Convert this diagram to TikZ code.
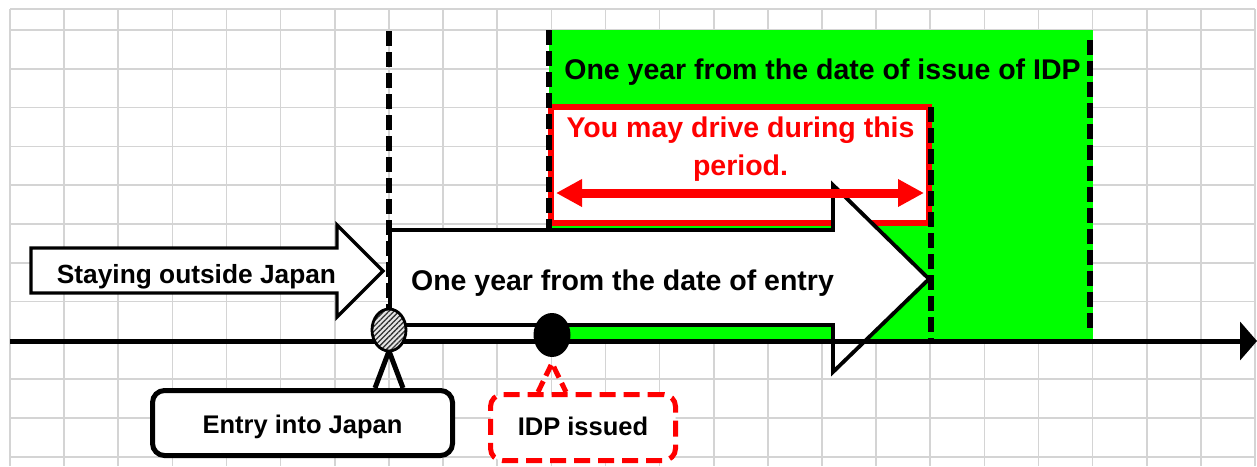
\documentclass[tikz,border=0pt]{standalone}
\usepackage{fontspec}
\setmainfont{Liberation Sans}
\usetikzlibrary{arrows.meta,shapes.geometric,patterns.meta,calc}
\definecolor{gridgray}{HTML}{D4D4D4}
\definecolor{brightgreen}{HTML}{00FF00}
\definecolor{pured}{HTML}{FF0000}
\begin{document}
\begin{tikzpicture}[x=1pt,y=-1pt,
  gridline/.style={draw=gridgray, line width=1.6pt},
  vdashed/.style={line width=5.5pt, dash pattern=on 15pt off 6pt},
  blockarrow/.style={draw=black, fill=white, line width=3.8pt, line join=miter},
  lbl/.style={font=\bfseries\fontsize{28.5}{38}\selectfont, inner sep=0pt},
  callout/.style={rounded corners=12pt, line width=5pt, fill=white, inner sep=0pt,
     font=\bfseries\fontsize{25.5}{30}\selectfont}]
\useasboundingbox (0,0) rectangle (1257,466);
% grid
\foreach \i in {0,...,23} \draw[gridline] ({10+54.13*\i},9) -- ({10+54.13*\i},466);
\draw[gridline] (10,9) -- (1255,9);
\foreach \k in {0,...,11} \draw[gridline] (10,{30+38.8*\k}) -- (1255,{30+38.8*\k});
% green period
\fill[brightgreen] (549,30) rectangle (1093,340);
\fill[white] (391,327) rectangle (549,339);
% red box
\draw[pured, line width=5.5pt, fill=white] (551,107) rectangle (929,223);
\draw[vdashed] (549,30) -- (549,340);
% block arrows
\draw[blockarrow, line width=3.3pt] (31,248) -- (337,248) -- (337,225) -- (383,271) -- (337,317) -- (337,293) -- (31,293) -- cycle;
\draw[blockarrow] (390,230) -- (833,230) -- (833,185) -- (929,279) -- (833,372) -- (833,325) -- (390,325) -- cycle;
% texts
\node[lbl, font=\bfseries\fontsize{26.3}{30}\selectfont, anchor=base] (stay) at (196.5,283) {Staying outside Japan};
\node[lbl, anchor=base] (entrytxt) at (622.5,290) {One year from the date of entry};
\node[lbl, anchor=base] (idptxt) at (822.5,79) {One year from the date of issue of IDP};
\node[lbl, text=pured, align=center] (drive) at (740.5,149) {You may drive during this\\period.};
% red double arrow
\coordinate (dl) at (556,193);
\coordinate (dr) at (924,193);
\draw[pured, line width=9pt, {Triangle[length=26pt,width=26pt]}-{Triangle[length=26pt,width=26pt]}] (dl) -- (dr);
% dashed markers
\draw[vdashed] (389,31) -- (389,310);
\draw[vdashed] (931,107) -- (931,340);
\draw[vdashed] (1090,40) -- (1090,332);
% axis
\coordinate (axstart) at (10,341);
\coordinate (axend) at (1257,341);
\draw[line width=5pt, -{Triangle[length=17pt,width=38pt]}] (axstart) -- (axend);
% callouts
\node[callout, draw=black, minimum width=300pt, minimum height=65pt, text height=20pt, text depth=0pt] (entry) at (302.5,423) {Entry into Japan};
\node[callout, draw=pured, dash pattern=on 16pt off 8pt, minimum width=185pt, minimum height=66pt, text height=15pt, text depth=0pt] (idp) at (583,427.5) {IDP issued};
% points
\node[ellipse, fill=black, minimum width=37pt, minimum height=44pt, inner sep=0pt] (idppt) at (552,335) {};
\coordinate (entrypt) at (389,330);
% pointers
\draw[line width=5pt, line join=miter] ($(entrypt |- entry.north)+(-14,0)$) -- ($(entrypt)+(0,21)$) -- ($(entrypt |- entry.north)+(14,0)$);
\draw[pured, line width=5pt, dash pattern=on 12pt off 6pt] ($(idppt.south |- idp.north)+(-14,0)$) -- ($(idppt.south)+(0,6)$) -- ($(idppt.south |- idp.north)+(14,0)$);
\node[ellipse, draw, line width=2.8pt, minimum width=34pt, minimum height=42pt, inner sep=0pt,
   preaction={fill=gray!20}, pattern={Lines[angle=45,distance=3.6pt,line width=1.3pt]}, pattern color=black!80] (entrycirc) at (entrypt) {};
\end{tikzpicture}
\end{document}
